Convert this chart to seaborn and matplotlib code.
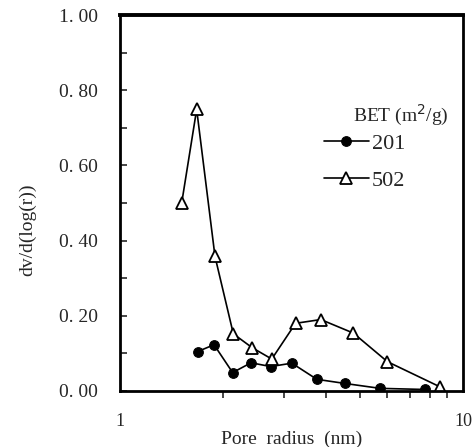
import numpy as np
import pandas as pd
import seaborn as sns
import matplotlib
matplotlib.use("Agg")
import matplotlib.pyplot as plt
from matplotlib.ticker import FixedLocator, NullFormatter

# pore size distribution
r_201 = [1.685, 1.88, 2.13, 2.41, 2.75, 3.17, 3.75, 4.53, 5.73, 7.75]
dv_201 = [0.105, 0.123, 0.049, 0.075, 0.065, 0.074, 0.031, 0.020, 0.007, 0.004]

r_502 = [1.513, 1.673, 1.892, 2.14, 2.43, 2.77, 3.25, 3.85, 4.79, 6.02, 8.57]
dv_502 = [0.50, 0.749, 0.358, 0.152, 0.115, 0.085, 0.18, 0.19, 0.154, 0.078, 0.011]

y_ticks = [0.0, 0.2, 0.4, 0.6, 0.8, 1.0]
y_ticklabels = ["0. 00", "0. 20", "0. 40", "0. 60", "0. 80", "1. 00"]

df201 = pd.DataFrame({"r": r_201, "dv": dv_201})
df502 = pd.DataFrame({"r": r_502, "dv": dv_502})

sns.set_style("ticks")
plt.rcParams["font.family"] = ["Liberation Serif", "DejaVu Serif"]

fig = plt.figure(figsize=(4.77, 4.47), dpi=100)
ax = fig.add_axes([0.2516, 0.1253, 0.7190, 0.8411])

sns.lineplot(data=df201, x="r", y="dv", ax=ax, color="black", lw=1.2,
             marker="o", markersize=7, markerfacecolor="black",
             markeredgecolor="black", label="201")
sns.lineplot(data=df502, x="r", y="dv", ax=ax, color="black", lw=1.2,
             marker="^", markersize=8, markerfacecolor="white",
             markeredgecolor="black", markeredgewidth=1.3, label="502")

ax.set_xscale("log")
ax.set_xlim(1, 10)
ax.set_ylim(0, 1.0)

ax.xaxis.set_major_locator(FixedLocator([1, 10]))
ax.set_xticklabels(["1", "10"])
ax.xaxis.set_minor_locator(FixedLocator([2, 3, 4, 5, 6, 7, 8, 9]))
ax.xaxis.set_minor_formatter(NullFormatter())
ax.tick_params(axis="x", which="major", direction="out", length=0, pad=16, labelsize=13)
ax.tick_params(axis="x", which="minor", direction="out", length=5, width=1.2)

ax.set_yticks(y_ticks)
ax.set_yticklabels(y_ticklabels)
ax.yaxis.set_minor_locator(FixedLocator([0.1, 0.3, 0.5, 0.7, 0.9]))
ax.tick_params(axis="y", which="both", direction="in", length=5, width=1.2, labelsize=14, pad=16)

for side in ["left", "bottom", "right"]:
    ax.spines[side].set_linewidth(2)
ax.spines["top"].set_linewidth(2.8)
for s in ax.spines.values():
    s.set_color("black")

ax.set_xlabel("Pore  radius  (nm)", fontsize=14, labelpad=0)
ax.set_ylabel("dv/d(log(r))", fontsize=14)
ax.yaxis.set_label_coords(-0.245, 0.43)

ax.text(0.679, 0.734, "BET (m$^2$/g)", transform=ax.transAxes, fontsize=14,
        ha="left", va="center")
ax.legend(loc="upper left", bbox_to_anchor=(0.595, 0.685), frameon=False,
          fontsize=16, handlelength=2.0, handletextpad=0.15, labelspacing=0.75,
          borderpad=0, borderaxespad=0)

fig.savefig("out.png", dpi=100)
